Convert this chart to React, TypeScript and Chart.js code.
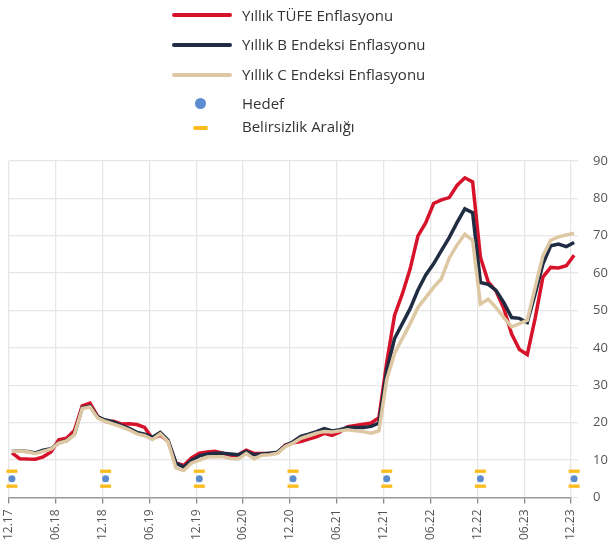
import React, { useEffect, useRef } from 'react';
import { Chart, registerables } from 'chart.js';

Chart.register(...registerables);

// X axis tick labels (every 6 months)
const tickLabels = ['12.17', '06.18', '12.18', '06.19', '12.19', '06.20', '12.20', '06.21', '12.21', '06.22', '12.22', '06.23', '12.23'];

// Monthly values Dec 2017 .. Dec 2023 (73 months)
const tufe = [
  11.92,
  10.35, 10.26, 10.23, 10.85, 12.15, 15.39, 15.85, 17.9, 24.52, 25.24, 21.62, 20.3,
  20.35, 19.67, 19.71, 19.5, 18.71, 15.72, 16.65, 15.01, 9.26, 8.55, 10.56, 11.84,
  12.15, 12.37, 11.86, 10.94, 11.39, 12.62, 11.76, 11.77, 11.75, 11.89, 14.03, 14.6,
  14.97, 15.61, 16.19, 17.14, 16.59, 17.53, 18.95, 19.25, 19.58, 19.89, 21.31, 36.08,
  48.69, 54.44, 61.14, 69.97, 73.5, 78.62, 79.6, 80.21, 83.45, 85.51, 84.39, 64.27,
  57.68, 55.18, 50.51, 43.68, 39.59, 38.21, 47.83, 58.94, 61.53, 61.36, 61.98, 64.77,
];

const bIndex = [
  12.3,
  12.4, 12.3, 11.9, 12.6, 13.0, 14.6, 15.2, 16.9, 24.0, 24.4, 21.5, 20.7,
  20.2, 19.3, 18.5, 17.4, 16.9, 16.1, 17.4, 15.3, 9.2, 8.1, 9.9, 11.1,
  11.6, 11.8, 11.8, 11.6, 11.4, 12.3, 11.4, 11.6, 11.8, 12.1, 13.8, 14.9,
  16.3, 16.9, 17.6, 18.4, 17.8, 18.1, 18.7, 18.7, 18.7, 19.0, 19.9, 34.0,
  42.5, 46.5, 50.5, 55.5, 59.5, 62.5, 66.0, 69.5, 73.5, 77.2, 76.2, 57.5,
  57.0, 55.4, 52.1, 48.1, 47.9, 46.8, 54.4, 62.4, 67.3, 67.8, 67.1, 68.2,
];

const cIndex = [
  12.3,
  12.4, 12.2, 11.7, 12.3, 12.9, 14.5, 15.1, 16.8, 23.8, 24.2, 21.2, 20.3,
  19.6, 18.9, 18.1, 17.0, 16.5, 15.5, 17.0, 14.9, 7.9, 7.2, 9.2, 10.0,
  10.8, 10.9, 10.9, 10.4, 10.3, 11.8, 10.3, 11.3, 11.4, 11.8, 13.6, 14.5,
  15.8, 16.5, 17.2, 17.6, 17.5, 17.8, 18.1, 17.8, 17.6, 17.2, 17.8, 31.5,
  38.5, 42.5, 46.5, 50.8, 53.5, 56.2, 58.5, 64.0, 67.5, 70.4, 68.8, 51.7,
  53.0, 50.8, 48.1, 45.6, 46.5, 47.4, 56.1, 64.6, 68.8, 69.7, 70.2, 70.7,
];

// Target (Hedef) and uncertainty band (Belirsizlik Aralığı), end of each year
const targetLabels = ['12.17', '12.18', '12.19', '12.20', '12.21', '12.22', '12.23'];
const target = [5, 5, 5, 5, 5, 5, 5];
const bandLow = [3, 3, 3, 3, 3, 3, 3];
const bandHigh = [7, 7, 7, 7, 7, 7, 7];

const RED = '#d7132b';
const NAVY = '#1f2c42';
const TAN = '#ddc8a3';
const BLUE = '#5b8ccf';
const YELLOW = '#fbbc1e';
const FONT = "'Open Sans', sans-serif";
const SHIFT = 0.4;

const monthPos = (label: string) => tickLabels.indexOf(label) * 6 + SHIFT;

export default function App() {
  const ref = useRef<HTMLCanvasElement>(null);

  useEffect(() => {
    if (!ref.current) return;
    const toPts = (arr: number[]) => arr.map((v, i) => ({ x: i + SHIFT, y: v }));
    const chart = new Chart(ref.current, {
      type: 'line',
      data: {
        datasets: [
          {
            label: 'Yıllık TÜFE Enflasyonu',
            data: toPts(tufe),
            borderColor: RED,
            backgroundColor: RED,
            borderWidth: 3.5,
            pointRadius: 0,
            clip: false,
            order: 3,
          },
          {
            label: 'Yıllık B Endeksi Enflasyonu',
            data: toPts(bIndex),
            borderColor: NAVY,
            backgroundColor: NAVY,
            borderWidth: 3.5,
            pointRadius: 0,
            clip: false,
            order: 2,
          },
          {
            label: 'Yıllık C Endeksi Enflasyonu',
            data: toPts(cIndex),
            borderColor: TAN,
            backgroundColor: TAN,
            borderWidth: 3.5,
            pointRadius: 0,
            clip: false,
            order: 1,
          },
          {
            label: 'Belirsizlik Aralığı',
            data: [
              ...targetLabels.map((l, i) => ({ x: monthPos(l), y: bandLow[i] })),
              ...targetLabels.map((l, i) => ({ x: monthPos(l), y: bandHigh[i] })),
            ],
            showLine: false,
            pointStyle: 'line',
            pointRadius: 5.5,
            pointBorderWidth: 3.3,
            borderColor: YELLOW,
            backgroundColor: YELLOW,
            clip: false,
            order: 0,
          },
          {
            label: 'Hedef',
            data: targetLabels.map((l, i) => ({ x: monthPos(l), y: target[i] })),
            showLine: false,
            pointStyle: 'circle',
            pointRadius: 3.5,
            pointBorderWidth: 0,
            borderColor: BLUE,
            backgroundColor: BLUE,
            clip: false,
            order: 0,
          },
        ],
      },
      options: {
        animation: false,
        responsive: false,
        maintainAspectRatio: false,
        layout: { padding: { top: 161, left: 0, right: 0, bottom: 1 } },
        plugins: { legend: { display: false }, tooltip: { enabled: false } },
        scales: {
          x: {
            type: 'linear',
            min: 0,
            max: 72,
            afterFit: (scale: any) => {
              scale.paddingLeft = 6;
            },
            ticks: {
              stepSize: 6,
              autoSkip: false,
              maxRotation: 90,
              minRotation: 90,
              padding: 6,
              color: '#555',
              font: { family: FONT, size: 12 },
              callback: (v: any) => tickLabels[Math.round(Number(v) / 6)] ?? '',
            },
            grid: { color: '#e6e6e6', lineWidth: 1.3, tickLength: 6, tickColor: '#888', tickWidth: 1.3 },
            border: { display: true, color: '#9a9a9a', width: 1.5 },
          },
          y: {
            position: 'right',
            min: 0,
            max: 90,
            afterFit: (scale: any) => {
              scale.width = 38;
            },
            ticks: {
              stepSize: 10,
              padding: 15,
              color: '#555',
              font: { family: FONT, size: 13 },
            },
            grid: { color: '#e6e6e6', lineWidth: 1.3, tickLength: 7 },
            border: { display: false },
          },
        },
      },
    });
    return () => chart.destroy();
  }, []);

  const textStyle: React.CSSProperties = {
    position: 'absolute',
    left: 242,
    fontFamily: FONT,
    fontSize: 15,
    lineHeight: '20px',
    color: '#333',
    whiteSpace: 'nowrap',
  };
  const lineStyle = (color: string, y: number): React.CSSProperties => ({
    position: 'absolute',
    left: 172,
    top: y - 2,
    width: 60,
    height: 4,
    borderRadius: 2,
    background: color,
  });

  return (
    <div style={{ position: 'absolute', left: 0, top: 0, width: 609, height: 547, background: '#fff' }}>
      <canvas ref={ref} width={609} height={547} style={{ position: 'absolute', left: 0, top: 0, display: 'block' }} />
      <div style={lineStyle(RED, 15)} />
      <div style={{ ...textStyle, top: 5 }}>Yıllık TÜFE Enflasyonu</div>
      <div style={lineStyle(NAVY, 44.5)} />
      <div style={{ ...textStyle, top: 34 }}>Yıllık B Endeksi Enflasyonu</div>
      <div style={lineStyle(TAN, 75)} />
      <div style={{ ...textStyle, top: 64 }}>Yıllık C Endeksi Enflasyonu</div>
      <div style={{ position: 'absolute', left: 194.5, top: 97.5, width: 11, height: 11, borderRadius: '50%', background: BLUE }} />
      <div style={{ ...textStyle, top: 92.5 }}>Hedef</div>
      <div style={{ position: 'absolute', left: 193, top: 125.5, width: 15, height: 4, borderRadius: 2, background: YELLOW }} />
      <div style={{ ...textStyle, top: 116 }}>Belirsizlik Aralığı</div>
    </div>
  );
}
